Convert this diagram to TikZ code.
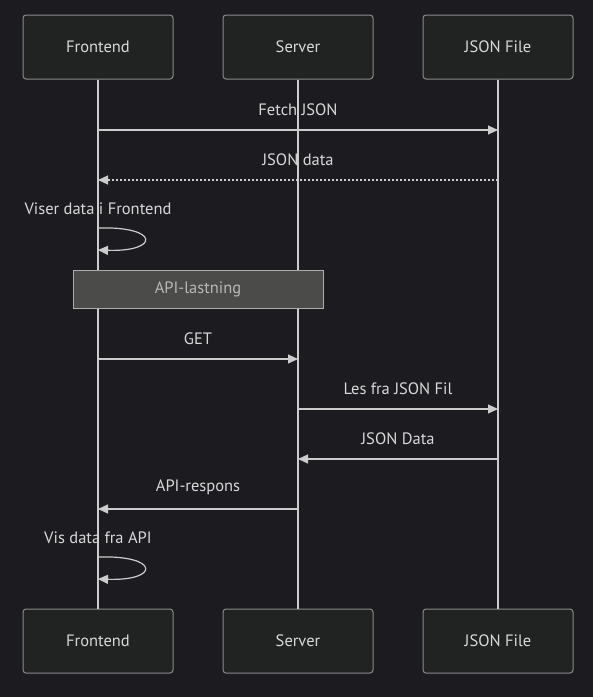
\documentclass[tikz,border=0pt]{standalone}
\usepackage{fontspec}
\setmainfont{PT Sans}
\usetikzlibrary{arrows.meta, positioning}
\definecolor{bgcol}{HTML}{1C1B20}
\definecolor{actorfill}{HTML}{212322}
\definecolor{actorline}{HTML}{8A8A8A}
\definecolor{linecol}{HTML}{CCCCCC}
\definecolor{textcol}{HTML}{D8D8D8}
\definecolor{notefill}{HTML}{4B4C4A}
\definecolor{notetext}{HTML}{B8B8B8}

\begin{document}
\begin{tikzpicture}[
    x=1pt, y=-1pt,
    font=\fontsize{16.5}{19}\selectfont,
    actor/.style={rectangle, draw=actorline, fill=actorfill, rounded corners=3pt, line width=1pt,
      minimum width=150pt, minimum height=64pt, text=textcol},
    life/.style={draw=linecol, line width=1.2pt},
    msg/.style={draw=linecol, line width=1.2pt, -{Triangle[length=10pt, width=9pt]}},
    reply/.style={msg, dash pattern=on 2pt off 2pt},
    lbl/.style={text=textcol, inner sep=0pt},
    note/.style={rectangle, draw=actorline!70, fill=notefill, minimum width=250pt, minimum height=38pt,
      text=notetext, line width=0.8pt}
  ]
    \fill[bgcol] (0,0) rectangle (593,697);
    \useasboundingbox (0,0) rectangle (593,697);

    % deltakere
    \node[actor] (front)  at (98,47)  {Frontend};
    \node[actor] (server) at (298,47) {Server};
    \node[actor] (file)   at (498,47) {JSON File};
    \node[actor] (frontB)  at (98,641)  {Frontend};
    \node[actor] (serverB) at (298,641) {Server};
    \node[actor] (fileB)   at (498,641) {JSON File};

    \draw[life] (front)  -- (frontB);
    \draw[life] (server) -- (serverB);
    \draw[life] (file)   -- (fileB);

    % rader
    \coordinate (r1) at (0,130);
    \coordinate (r2) at (0,180);
    \coordinate (r3a) at (0,228);
    \coordinate (r3b) at (0,250);
    \coordinate (r4) at (0,359);
    \coordinate (r5) at (0,409);
    \coordinate (r6) at (0,459);
    \coordinate (r7) at (0,509);
    \coordinate (r8a) at (0,557);
    \coordinate (r8b) at (0,579);

    \draw[msg] (front |- r1) -- node[lbl, above=14pt]{Fetch JSON} (file |- r1);
    \draw[reply] (file |- r2) -- node[lbl, above=14pt]{JSON data} (front |- r2);
    \draw[msg] (front |- r3a) .. controls +(62,-2) and +(62,2) .. (front |- r3b);
    \node[lbl, above=13pt of front |- r3a] (viser) {Viser data i Frontend};

    \node[note] (apinote) at (198,289) {API-lastning};

    \draw[msg] (front |- r4) -- node[lbl, above=14pt]{GET} (server |- r4);
    \draw[msg] (server |- r5) -- node[lbl, above=14pt]{Les fra JSON Fil} (file |- r5);
    \draw[msg] (file |- r6) -- node[lbl, above=14pt]{JSON Data} (server |- r6);
    \draw[msg] (server |- r7) -- node[lbl, above=14pt]{API-respons} (front |- r7);
    \draw[msg] (front |- r8a) .. controls +(62,-2) and +(62,2) .. (front |- r8b);
    \node[lbl, above=13pt of front |- r8a] (visapi) {Vis data fra API};
\end{tikzpicture}
\end{document}
